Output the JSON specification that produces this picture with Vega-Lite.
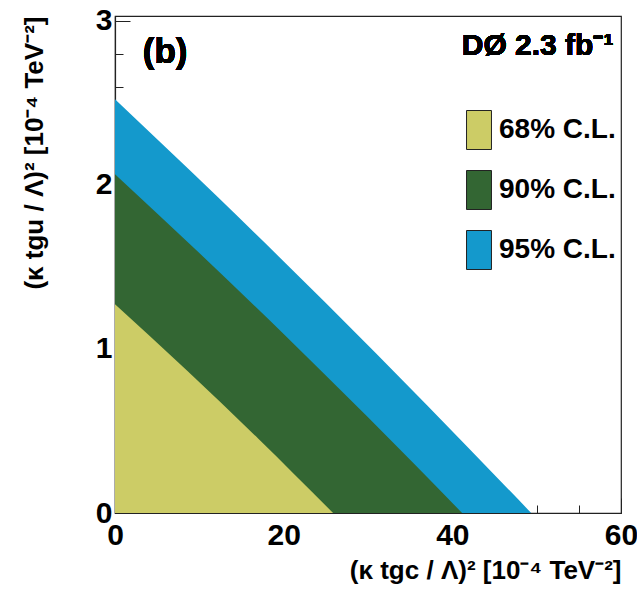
{
  "$schema": "https://vega.github.io/schema/vega-lite/v6.json",
  "width": 506,
  "height": 497,
  "autosize": {"type": "none"},
  "padding": {"left": 115, "top": 16, "right": 16, "bottom": 80},
  "background": "white",
  "config": {
    "font": "Liberation Sans",
    "view": {"stroke": "#222", "strokeWidth": 1.2},
    "axis": {
      "grid": false,
      "domainColor": "#222",
      "domainWidth": 1.2,
      "tickColor": "#222",
      "labelColor": "black",
      "titleColor": "black",
      "labelFont": "Liberation Sans",
      "titleFont": "Liberation Sans",
      "labelFontWeight": "bold",
      "titleFontWeight": "bold",
      "labelFontSize": 30,
      "titleFontSize": 26
    },
    "legend": {
      "orient": "none",
      "legendX": 344,
      "legendY": 94,
      "symbolType": "M-0.64,-1H0.64V1H-0.64Z",
      "symbolSize": 1521,
      "symbolStrokeColor": "#222",
      "symbolStrokeWidth": 1,
      "symbolOpacity": 1,
      "labelFontSize": 28,
      "labelFontWeight": "bold",
      "labelFont": "Liberation Sans",
      "labelColor": "black",
      "rowPadding": 16,
      "labelOffset": 0,
      "padding": 0,
      "labelLimit": 300
    }
  },
  "datasets": {
    "cl": [
      {"cl": "95% C.L.", "x": 0, "y": 2.523},
      {"cl": "95% C.L.", "x": 12, "y": 1.935},
      {"cl": "95% C.L.", "x": 25, "y": 1.28},
      {"cl": "95% C.L.", "x": 37, "y": 0.657},
      {"cl": "95% C.L.", "x": 49.35, "y": 0},
      {"cl": "90% C.L.", "x": 0, "y": 2.065},
      {"cl": "90% C.L.", "x": 10, "y": 1.585},
      {"cl": "90% C.L.", "x": 20, "y": 1.091},
      {"cl": "90% C.L.", "x": 30, "y": 0.583},
      {"cl": "90% C.L.", "x": 41.16, "y": 0},
      {"cl": "68% C.L.", "x": 0, "y": 1.273},
      {"cl": "68% C.L.", "x": 8.5, "y": 0.87},
      {"cl": "68% C.L.", "x": 17, "y": 0.453},
      {"cl": "68% C.L.", "x": 25.86, "y": 0}
    ]
  },
  "data": {"name": "cl"},
  "resolve": {"axis": {"x": "independent", "y": "independent"}},
  "layer": [
    {
      "transform": [{"filter": "datum.cl === '95% C.L.'"}],
      "mark": {"type": "area", "opacity": 1, "interpolate": "monotone"},
      "encoding": {
        "x": {
          "field": "x", "type": "quantitative",
          "scale": {"domain": [0, 60], "nice": false, "zero": false},
          "axis": {
            "orient": "bottom",
            "values": [0, 20, 40, 60],
            "ticks": false,
            "labelPadding": 7,
            "labelFlush": false,
            "title": "(κ tgc / Λ)² [10⁻⁴ TeV⁻²]",
            "titleAnchor": "end",
            "titlePadding": 7
          }
        },
        "y": {
          "field": "y", "type": "quantitative", "stack": null,
          "scale": {"domain": [0, 3.03], "nice": false, "zero": false},
          "axis": {
            "orient": "left",
            "values": [0, 1, 2, 3],
            "ticks": false,
            "labelPadding": 3,
            "labelFlush": false,
            "title": "(κ tgu / Λ)² [10⁻⁴ TeV⁻²]",
            "titleAnchor": "end",
            "titlePadding": 48
          }
        },
        "color": {
          "field": "cl", "type": "nominal",
          "scale": {"domain": ["68% C.L.", "90% C.L.", "95% C.L."], "range": ["#CCCC66", "#336633", "#1499CC"]},
          "legend": {"title": null}
        }
      }
    },
    {
      "transform": [{"filter": "datum.cl === '90% C.L.'"}],
      "mark": {"type": "area", "opacity": 1, "interpolate": "monotone"},
      "encoding": {
        "x": {
          "field": "x", "type": "quantitative",
          "axis": {
            "orient": "bottom",
            "values": [0, 5, 10, 15, 20, 25, 30, 35, 40, 45, 50, 55, 60],
            "labels": false,
            "domain": false,
            "title": null,
            "tickWidth": 1,
            "tickSize": {"condition": {"test": "datum.value % 20 === 0", "value": -15}, "value": -8}
          }
        },
        "y": {
          "field": "y", "type": "quantitative", "stack": null,
          "axis": {
            "orient": "left",
            "values": [0, 0.2, 0.4, 0.6, 0.8, 1, 1.2, 1.4, 1.6, 1.8, 2, 2.2, 2.4, 2.6, 2.8, 3],
            "labels": false,
            "domain": false,
            "title": null,
            "tickWidth": 1,
            "tickSize": {"condition": {"test": "datum.value % 1 === 0", "value": -15}, "value": -8}
          }
        },
        "color": {"field": "cl", "type": "nominal"}
      }
    },
    {
      "transform": [{"filter": "datum.cl === '68% C.L.'"}],
      "mark": {"type": "area", "opacity": 1, "interpolate": "monotone"},
      "encoding": {
        "x": {"field": "x", "type": "quantitative", "axis": null},
        "y": {"field": "y", "type": "quantitative", "stack": null, "axis": null},
        "color": {"field": "cl", "type": "nominal"}
      }
    },
    {
      "mark": {"type": "text", "text": "(b)", "font": "Liberation Sans", "fontWeight": "bold", "fontSize": 35, "align": "left", "baseline": "alphabetic", "color": "black"},
      "encoding": {
        "x": {"datum": 3.3, "type": "quantitative", "axis": null},
        "y": {"datum": 2.742, "type": "quantitative", "axis": null}
      }
    },
    {
      "mark": {"type": "text", "text": "DØ 2.3 fb⁻¹", "font": "Liberation Sans", "fontWeight": "bold", "fontSize": 30, "align": "right", "baseline": "alphabetic", "color": "black"},
      "encoding": {
        "x": {"datum": 59.1, "type": "quantitative", "axis": null},
        "y": {"datum": 2.79, "type": "quantitative", "axis": null}
      }
    }
  ]
}
